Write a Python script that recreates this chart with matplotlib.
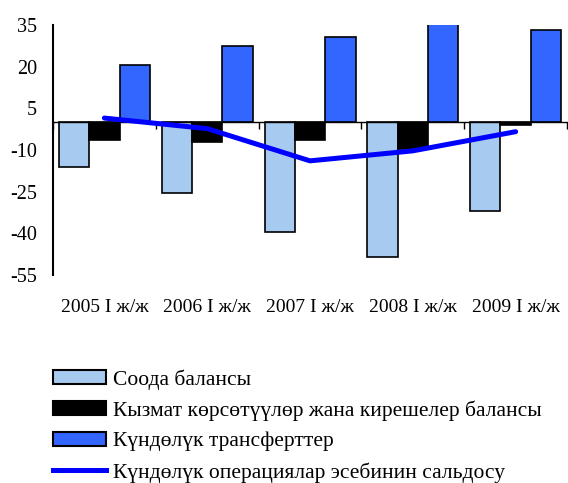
import numpy as np
import matplotlib
matplotlib.use("Agg")
import matplotlib.pyplot as plt
from matplotlib.patches import Patch
from matplotlib.lines import Line2D

categories = ["2005 I ж/ж", "2006 I ж/ж", "2007 I ж/ж", "2008 I ж/ж", "2009 I ж/ж"]
trade = [-16.0, -25.6, -39.4, -48.4, -31.9]
services = [-6.4, -7.0, -6.4, -9.6, -0.9]
transfers = [20.6, 27.5, 30.8, 35.6, 33.2]
current = [1.5, -2.3, -13.9, -10.3, -3.4]
labels = ["Соода балансы",
          "Кызмат көрсөтүүлөр жана кирешелер балансы",
          "Күндөлүк трансферттер",
          "Күндөлүк операциялар эсебинин сальдосу"]
yticks = [-55, -40, -25, -10, 5, 20, 35]

plt.rcParams['font.family'] = ['Liberation Serif', 'DejaVu Serif']
plt.rcParams['axes.unicode_minus'] = False

c_light = "#A6CAF0"
c_black = "#000000"
c_blue = "#3366FF"
c_line = "#0000FF"

fig = plt.figure(figsize=(5.68, 4.83), dpi=100)
ax = fig.add_axes([0.0933, 0.4306, 0.905, 0.5176])

x = np.arange(len(categories)) + 0.5
w = 0.295
for vals, col, off in [(trade, c_light, -w), (services, c_black, 0), (transfers, c_blue, w)]:
    ax.bar(x + off, vals, width=w, color=col, edgecolor="black", linewidth=1.2, zorder=2)
ax.plot(x, current, color=c_line, linewidth=3.6, solid_capstyle="round", zorder=3)

ax.set_xlim(0, len(categories))
ax.set_ylim(-55, 35)
ax.set_yticks(yticks)
ax.set_yticklabels([str(t) for t in yticks])
ax.tick_params(axis="y", length=0, pad=11.5, labelsize=14.5)
ax.spines["top"].set_visible(False)
ax.spines["right"].set_visible(False)
ax.spines["left"].set_linewidth(1.5)
ax.spines["bottom"].set_position(("data", 0))
ax.spines["bottom"].set_linewidth(1.0)
ax.set_xticks(np.arange(len(categories) + 1))
ax.set_xticklabels([])
ax.tick_params(axis="x", direction="out", length=5, width=1.0)

for xi, lab in zip(x, categories):
    ax.text(xi, -0.13, lab, transform=ax.get_xaxis_transform(),
            ha="center", va="center", fontsize=14)

handles = [Patch(facecolor=c_light, edgecolor="black", linewidth=1.5),
           Patch(facecolor=c_black, edgecolor="black", linewidth=1.5),
           Patch(facecolor=c_blue, edgecolor="black", linewidth=1.5),
           Line2D([0], [0], color=c_line, linewidth=3.6)]
fig.legend(handles, labels, loc="upper left", bbox_to_anchor=(0.0933, 0.236),
           frameon=False, fontsize=15.5, borderpad=0, borderaxespad=0,
           handlelength=2.45, handleheight=0.65, handletextpad=0.33,
           labelspacing=0.5)

fig.savefig("out.png", dpi=100)
